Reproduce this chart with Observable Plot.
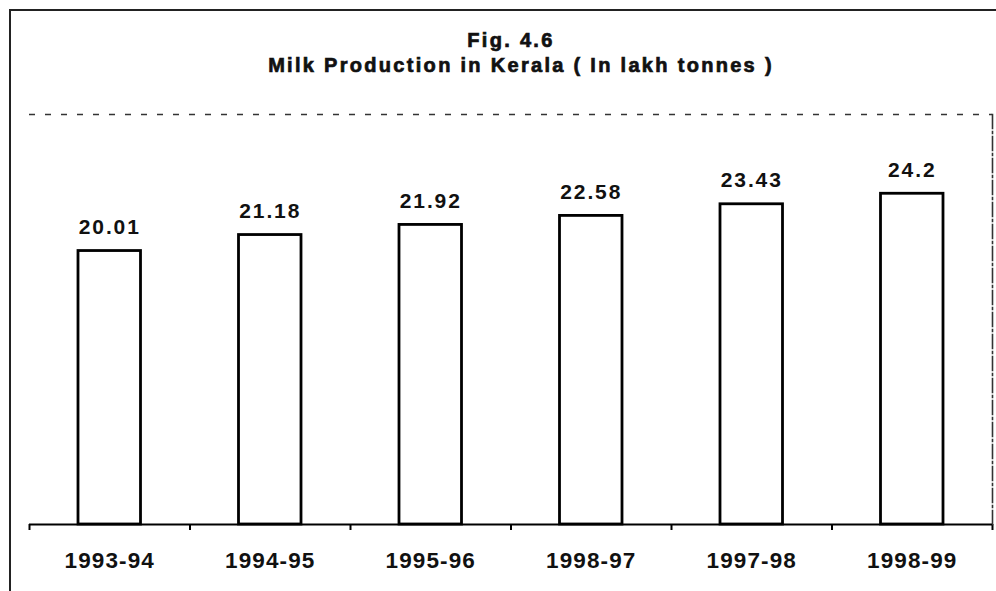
<!DOCTYPE html>
<html>
<head>
<meta charset="utf-8">
<script src="https://cdn.jsdelivr.net/npm/d3@7"></script>
<script src="https://cdn.jsdelivr.net/npm/@observablehq/plot@0.6"></script>
<style>
  html, body { margin: 0; padding: 0; background: #fff; }
  #wrap { position: relative; width: 996px; height: 591px; overflow: hidden; background: #fff; font-family: "Liberation Sans", Arial, sans-serif; }
  #wrap svg { position: absolute; left: 0; top: 0; }
  .border { position: absolute; left: 9px; top: 9px; width: 1000px; height: 600px; border-top: 2px solid #222; border-left: 2px solid #222; }
  .title { position: absolute; transform: translateX(-50%); white-space: nowrap; font-weight: bold; font-size: 20px; line-height: 20px; letter-spacing: 2.3px; color: #111; -webkit-text-stroke: 0.7px #111; }
</style>
</head>
<body>
<div id="wrap">
  <div class="border"></div>
</div>
<script>
const years = ["1993-94", "1994-95", "1995-96", "1998-97", "1997-98", "1998-99"];
const production = [20.01, 21.18, 21.92, 22.58, 23.43, 24.2];
const valueLabels = ["20.01", "21.18", "21.92", "22.58", "23.43", "24.2"];
const titleLine1 = "Fig. 4.6";
const titleLine2 = "Milk Production in Kerala ( In lakh tonnes )";

const data = years.map((year, i) => ({i, year, value: production[i], label: valueLabels[i]}));

const chart = Plot.plot({
  width: 996,
  height: 591,
  marginTop: 114,
  marginBottom: 67,
  marginLeft: 29,
  marginRight: 4,
  style: {background: "transparent", fontFamily: "'Liberation Sans', Arial, sans-serif", color: "black", overflow: "visible"},
  x: {domain: [0, years.length], ticks: years.length, tickSize: 6, tickFormat: () => "", label: null},
  y: {domain: [0, 30], axis: null},
  marks: [
    Plot.ruleY([30], {stroke: "#333", strokeWidth: 1.6, strokeDasharray: "6,10"}),
    Plot.frame({anchor: "right", stroke: "#333", strokeWidth: 1.6, strokeDasharray: "14,3,2,3"}),
    Plot.rectY(data, {x1: d => d.i, x2: d => d.i + 1, y: "value", insetLeft: 49, insetRight: 49, fill: "white", stroke: "black", strokeWidth: 2.8}),
    Plot.ruleY([0], {stroke: "black", strokeWidth: 2.2}),
    Plot.text(data, {x: d => d.i + 0.5, y: "value", text: "label", lineAnchor: "bottom", dy: -17, fontSize: 21, fontWeight: "bold", fill: "#111"}),
    Plot.text(data, {x: d => d.i + 0.5, y: () => 0, text: "year", lineAnchor: "bottom", dy: 43, fontSize: 22.5, fontWeight: "bold", fill: "#111"})
  ]
});

// letter spacing for the two text layers (values first, then years)
const textGroups = chart.querySelectorAll('g[aria-label="text"]');
if (textGroups[0]) textGroups[0].style.letterSpacing = "1.9px";
if (textGroups[1]) textGroups[1].style.letterSpacing = "1.1px";
chart.querySelectorAll('g[aria-label="x-axis tick"]').forEach(g => g.setAttribute("stroke-width", "2"));

const wrap = document.getElementById("wrap");
wrap.appendChild(chart);
const t1 = document.createElement("div");
t1.className = "title"; t1.textContent = titleLine1;
t1.style.left = "511px"; t1.style.top = "30px";
const t2 = document.createElement("div");
t2.className = "title"; t2.textContent = titleLine2;
t2.style.left = "521px"; t2.style.top = "55px";
wrap.appendChild(t1);
wrap.appendChild(t2);
</script>
</body>
</html>
